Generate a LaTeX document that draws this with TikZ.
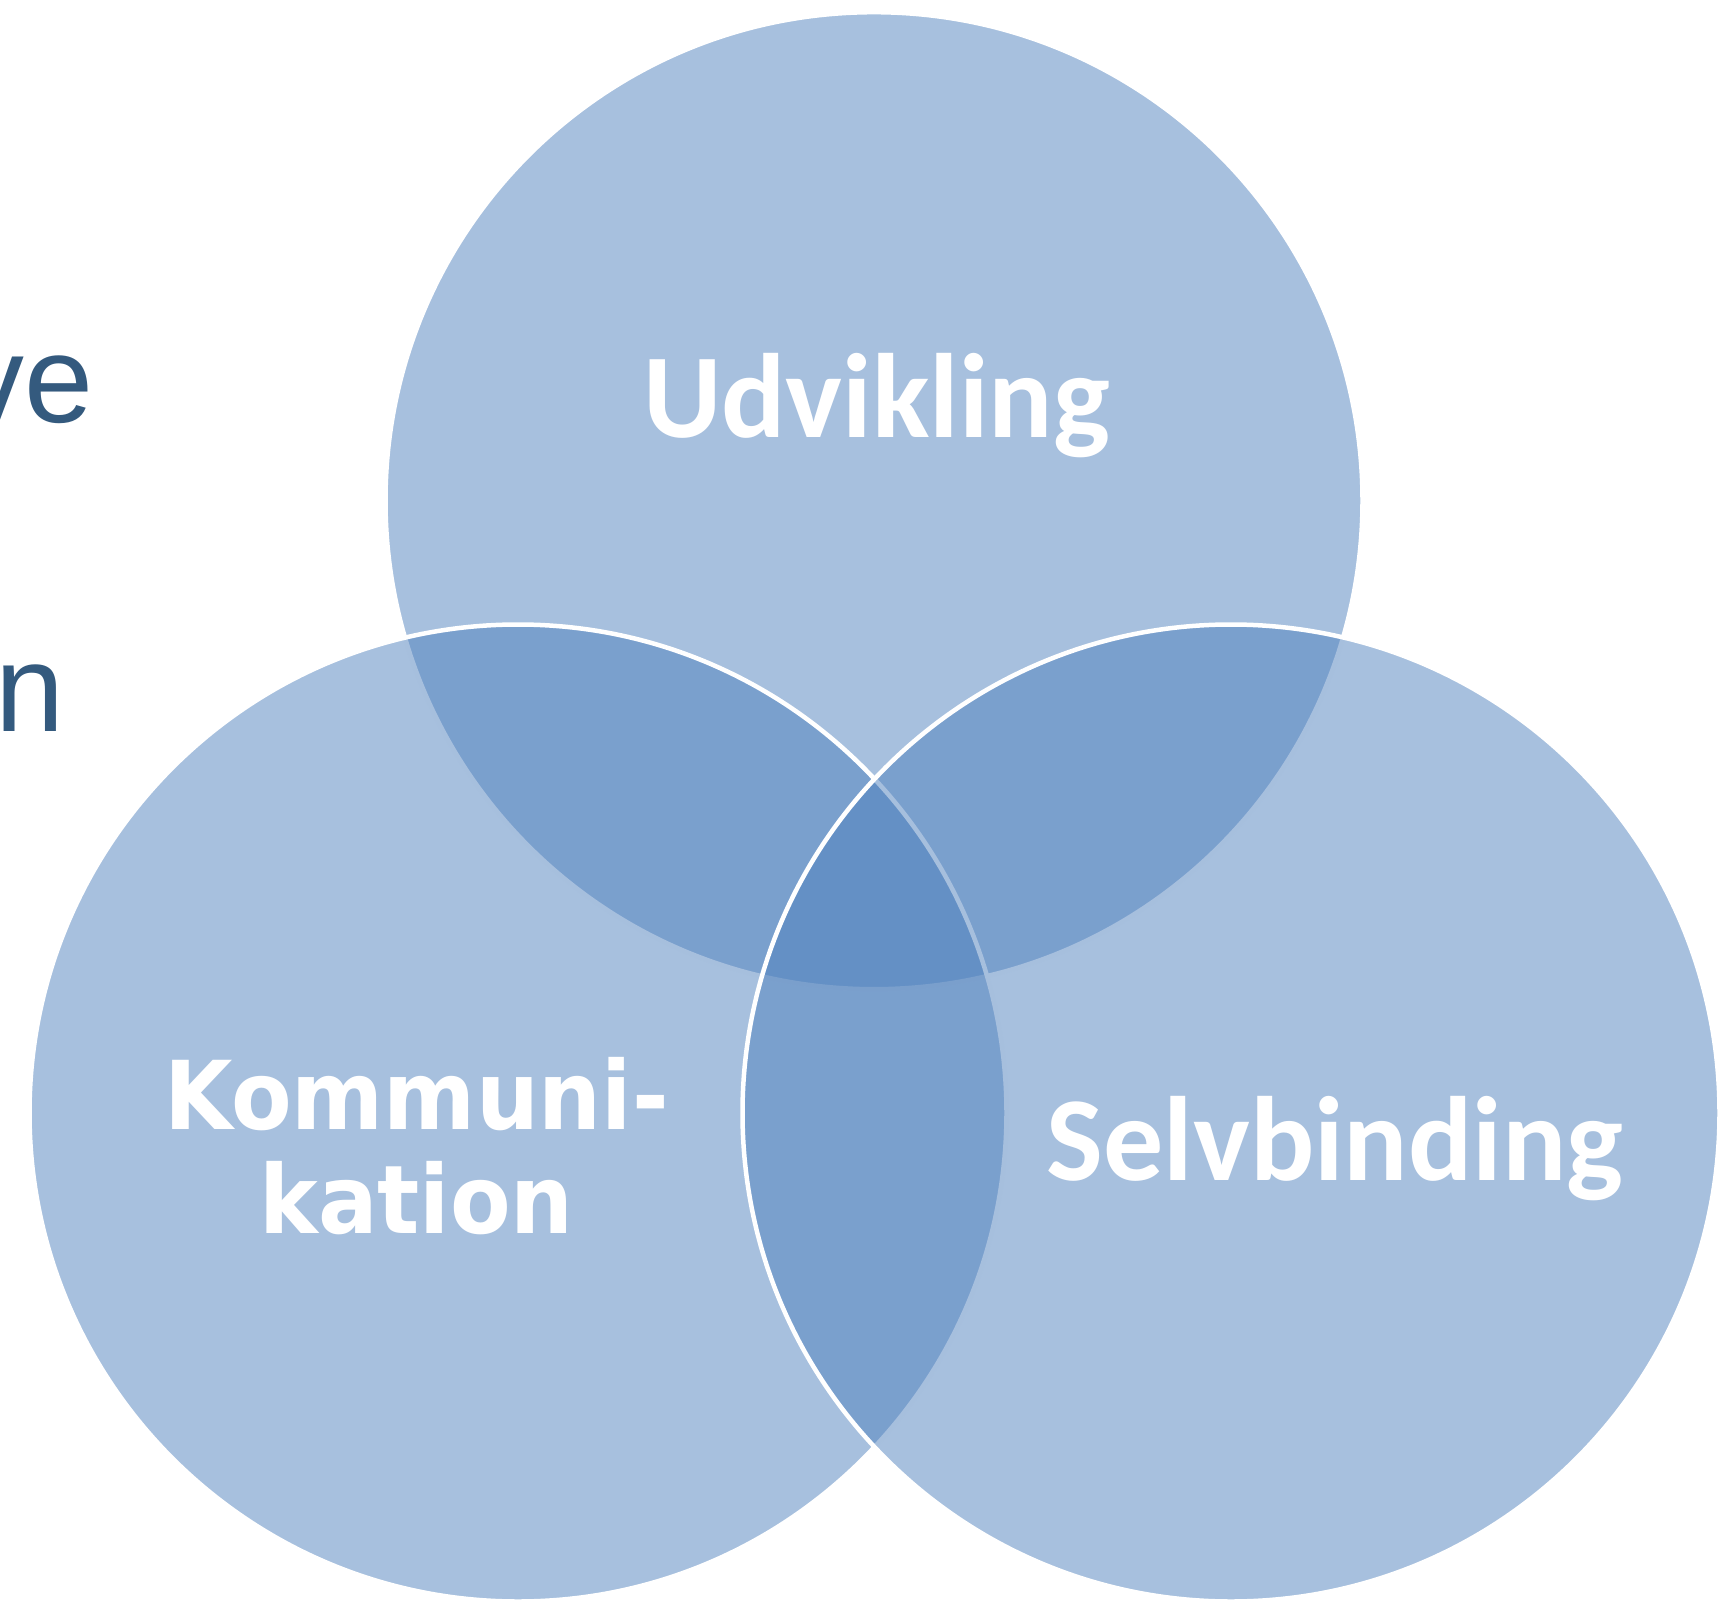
\documentclass[tikz,border=0pt]{standalone}
\usepackage{fontspec}
\newfontfamily\calib{Carlito}
\newfontfamily\tahom{DejaVu Sans}[FakeStretch=0.93]
\newfontfamily\arialf{Liberation Sans}
\definecolor{venn}{RGB}{79,129,189}
\definecolor{sidetext}{RGB}{52,90,126}
\begin{document}
\begin{tikzpicture}[x=1pt,y=-1pt,
  venncircle/.style={circle, inner sep=0pt, outer sep=0pt, minimum size=977pt, fill=venn, fill opacity=0.5, draw=white, draw opacity=1, line width=4.5pt},
  lbl/.style={text=white, inner sep=0pt, anchor=base},
  calfont/.style={font=\calib\bfseries\fontsize{120}{144}\selectfont},
  side/.style={text=sidetext, inner sep=0pt, anchor=base east, font=\arialf\fontsize{124}{140}\selectfont}]
\useasboundingbox (0,0) rectangle (1733,1600);
\clip (0,0) rectangle (1733,1600);
\node[side] (ve) at (94,422) {ve};
\node[side] (n) at (64.5,731.5) {n};
\node[venncircle] (top) at (874,500.7) {};
\node[venncircle] (left) at (518,1113) {};
\node[venncircle] (right) at (1231,1113) {};
\node[lbl, calfont] (udv) at (876.5,437) {Udvikling};
\node[lbl, align=center, font=\tahom\bfseries\fontsize{95}{104}\selectfont] (kom) at (416.5,1233) {Kommuni-\\kation};
\node[lbl, calfont] (selv) at (1335,1180) {Selvbinding};
\end{tikzpicture}
\end{document}
